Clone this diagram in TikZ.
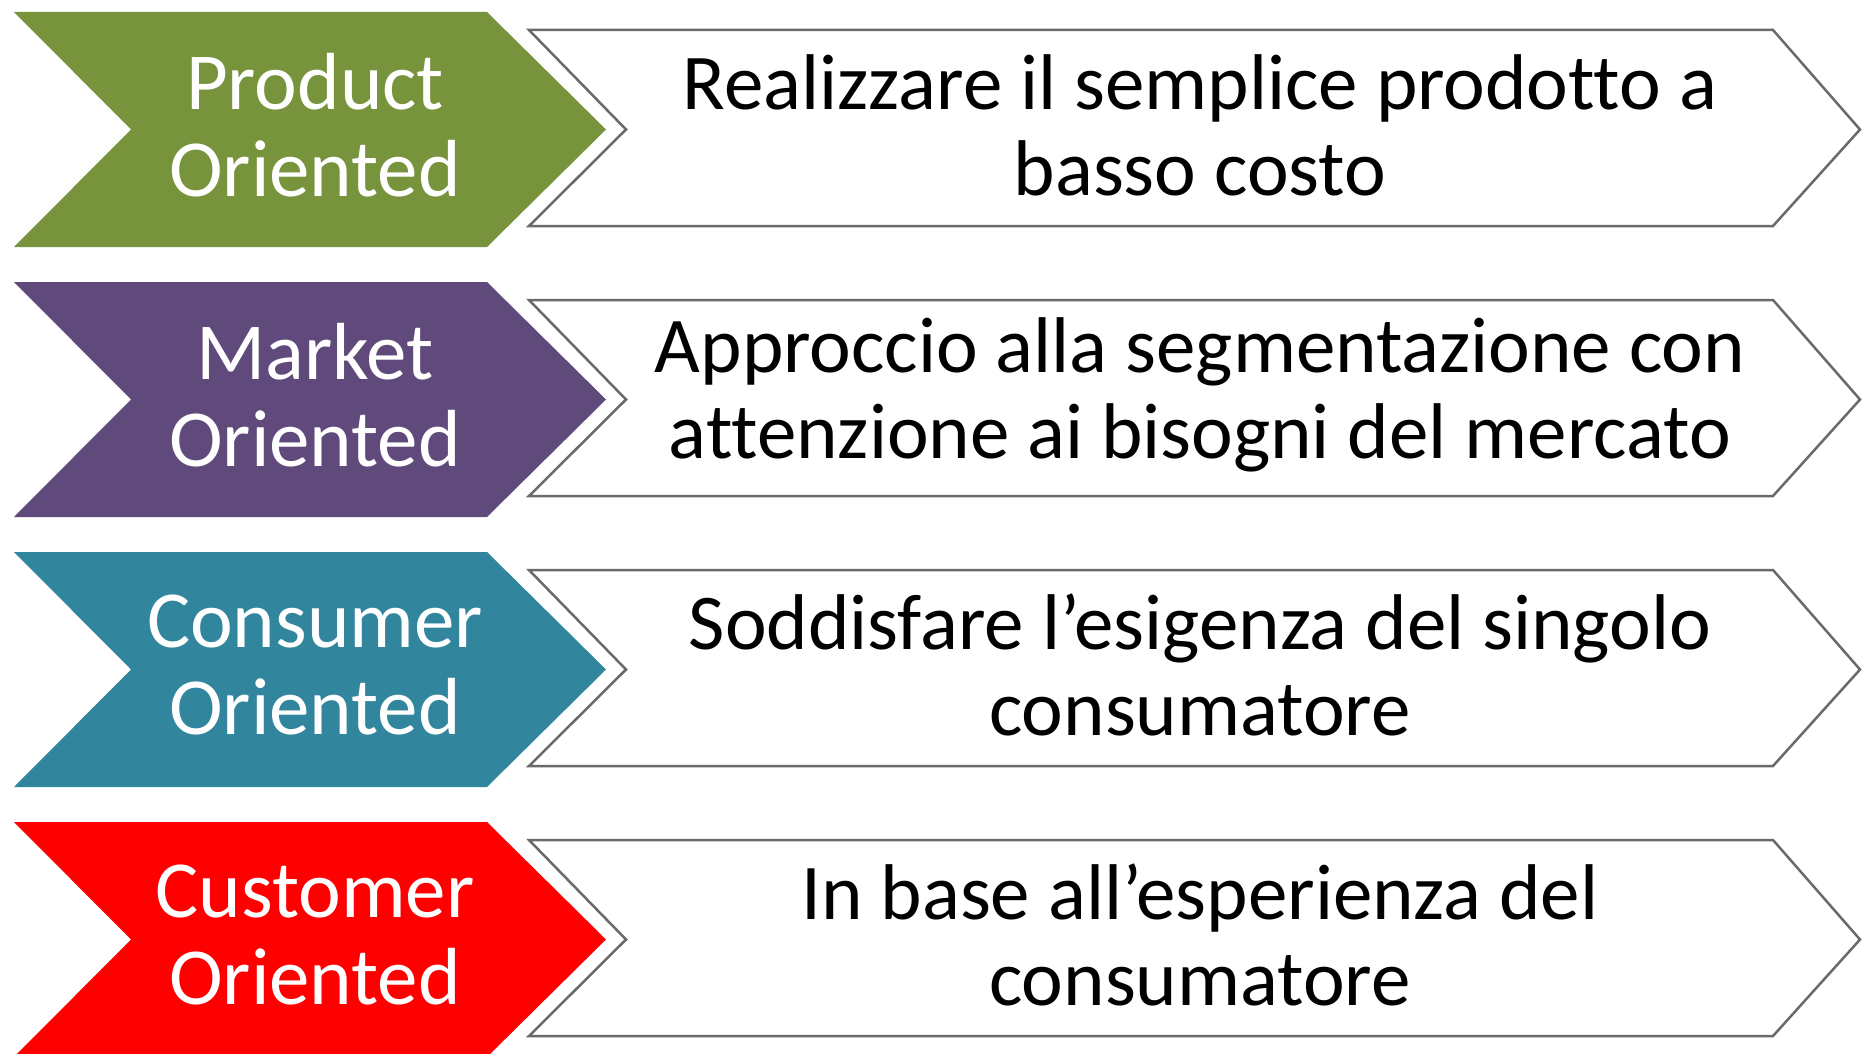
\documentclass[tikz,border=0pt]{standalone}
\usepackage{fontspec}
\setmainfont{Carlito}[Ligatures={NoCommon}]
\usepackage{xcolor}
\usepackage{tikz}
\usetikzlibrary{calc}
\definecolor{prodgreen}{HTML}{77933C}
\definecolor{marketpurple}{HTML}{604A7B}
\definecolor{consteal}{HTML}{31859C}
\definecolor{custred}{HTML}{FF0000}
\definecolor{edgegray}{HTML}{6A6A6A}

\begin{document}
\begin{tikzpicture}[x=1pt,y=-1pt,
    headtext/.style={align=center, text=white, font=\fontsize{81}{87}\selectfont},
    desctext/.style={align=center, text=black, font=\fontsize{79}{86}\selectfont},
    whitearrow/.style={draw=edgegray, fill=white, line width=2.5pt, line join=miter}]
        %AREA
        \useasboundingbox (0,0) rectangle (1863,1054);
        \clip (0,0) rectangle (1863,1054);
        %PRODUCT
        \fill[prodgreen] (14,12) -- (487,12) -- (606,129.5) -- (487,247) -- (14,247) -- (131,129.5) -- cycle;
        \draw[whitearrow] (529,30) -- (1773,30) -- (1860,129.5) -- (1773,226) -- (529,226) -- (626,129.5) -- cycle;
        \node[headtext] (product) at (315,125) {Product\\Oriented};
        \node[desctext] (productdesc) at (1200,125) {Realizzare il semplice prodotto a\\basso costo};
        %MARKET
        \fill[marketpurple] (14,282) -- (487,282) -- (606,399.5) -- (487,517) -- (14,517) -- (131,399.5) -- cycle;
        \draw[whitearrow] (529,300) -- (1773,300) -- (1860,399.5) -- (1773,496) -- (529,496) -- (626,399.5) -- cycle;
        \node[headtext] (market) at (315,395) {Market\\Oriented};
        \node[desctext] (marketdesc) at (1200,395) {Approccio alla segmentazione con\\attenzione ai bisogni del mercato};
        %CONSUMER
        \fill[consteal] (14,552) -- (487,552) -- (606,669.5) -- (487,787) -- (14,787) -- (131,669.5) -- cycle;
        \draw[whitearrow] (529,570) -- (1773,570) -- (1860,669.5) -- (1773,766) -- (529,766) -- (626,669.5) -- cycle;
        \node[headtext] (consumer) at (315,665) {Consumer\\Oriented};
        \node[desctext] (consumerdesc) at (1200,665) {Soddisfare l’esigenza del singolo\\consumatore};
        %CUSTOMER
        \fill[custred] (14,822) -- (487,822) -- (606,939.5) -- (487,1057) -- (14,1057) -- (131,939.5) -- cycle;
        \draw[whitearrow] (529,840) -- (1773,840) -- (1860,939.5) -- (1773,1036) -- (529,1036) -- (626,939.5) -- cycle;
        \node[headtext] (customer) at (315,935) {Customer\\Oriented};
        \node[desctext] (customerdesc) at (1200,935) {In base all’esperienza del\\consumatore};
    \end{tikzpicture}
\end{document}
